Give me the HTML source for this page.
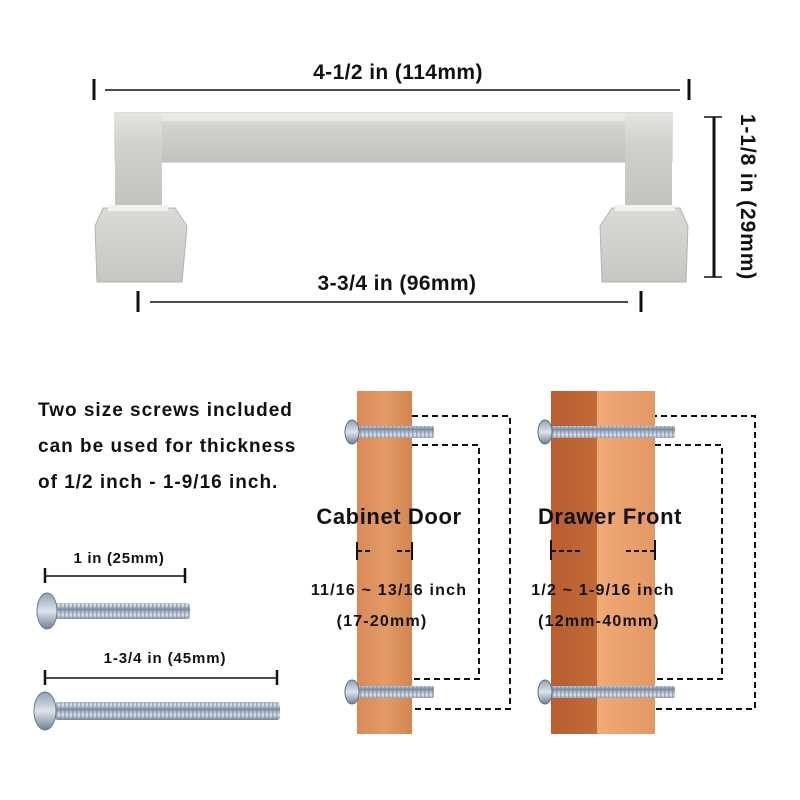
<!DOCTYPE html>
<html><head><meta charset="utf-8"><style>
html,body{margin:0;padding:0;background:#fff}
svg{display:block}
text{font-family:"Liberation Sans",Arial,sans-serif;font-weight:bold;fill:#111}
</style></head><body>
<svg width="800" height="800" viewBox="0 0 800 800" xmlns="http://www.w3.org/2000/svg">
<defs>
<linearGradient id="metal" x1="0" y1="0" x2="0" y2="1">
<stop offset="0" stop-color="#e6e4e1"/><stop offset="0.3" stop-color="#d3d1ce"/><stop offset="1" stop-color="#c3c1be"/>
</linearGradient>
<linearGradient id="foot" x1="0" y1="0" x2="0" y2="1">
<stop offset="0" stop-color="#dcdad7"/><stop offset="1" stop-color="#c8c6c2"/>
</linearGradient>
<linearGradient id="wood1" x1="0" y1="0" x2="1" y2="0">
<stop offset="0" stop-color="#d88a58"/><stop offset="0.5" stop-color="#e39a65"/><stop offset="1" stop-color="#d4864f"/>
</linearGradient>
<linearGradient id="wood2" x1="0" y1="0" x2="1" y2="0">
<stop offset="0" stop-color="#b85e30"/><stop offset="1" stop-color="#c26a38"/>
</linearGradient>
<linearGradient id="wood3" x1="0" y1="0" x2="1" y2="0">
<stop offset="0" stop-color="#f0aa78"/><stop offset="1" stop-color="#e49862"/>
</linearGradient>
<linearGradient id="screw" x1="0" y1="0" x2="0" y2="1">
<stop offset="0" stop-color="#8fa0b4"/><stop offset="0.5" stop-color="#dde4ec"/><stop offset="1" stop-color="#6f8196"/>
</linearGradient>
<pattern id="thread" width="4" height="10" patternUnits="userSpaceOnUse">
<rect width="4" height="10" fill="url(#screw)"/><rect width="1.5" height="10" fill="#7a8aa0" opacity="0.6"/>
</pattern>
</defs>

<!-- handle -->
<rect x="115" y="113" width="557" height="49" fill="url(#metal)" stroke="#bdbbb8"/>
<rect x="115" y="113" width="557" height="8" fill="#ebe9e6"/>
<rect x="115" y="113" width="47" height="100" fill="url(#metal)"/>
<rect x="625" y="113" width="47" height="100" fill="url(#metal)"/>
<path d="M103 208 L175 208 L187 226 L182 282 L97 282 L95 226 Z" fill="url(#foot)" stroke="#b5b3b0"/>
<path d="M612 208 L680 208 L688 226 L686 282 L602 282 L600 226 Z" fill="url(#foot)" stroke="#b5b3b0"/>
<rect x="108" y="205" width="60" height="6" fill="#f2f1ef"/>
<rect x="615" y="205" width="60" height="6" fill="#f2f1ef"/>

<!-- dimension lines -->
<g stroke="#111" stroke-width="3">
<line x1="94" y1="79" x2="94" y2="100"/><line x1="689" y1="79" x2="689" y2="100"/>
<line x1="138" y1="291" x2="138" y2="312"/><line x1="641" y1="291" x2="641" y2="312"/>
<line x1="714" y1="117" x2="714" y2="277"/>
</g>
<g stroke="#111" stroke-width="1.5">
<line x1="105" y1="90" x2="680" y2="90"/>
<line x1="150" y1="302" x2="628" y2="302"/>
<line x1="704" y1="117" x2="722" y2="117"/><line x1="704" y1="277" x2="722" y2="277"/>
</g>
<text x="398" y="79" font-size="21" letter-spacing="0.4" text-anchor="middle">4-1/2 in (114mm)</text>
<text x="397" y="290" font-size="21" letter-spacing="0.4" text-anchor="middle">3-3/4 in (96mm)</text>
<text x="0" y="0" font-size="21" letter-spacing="0.9" text-anchor="middle" transform="translate(741,197) rotate(90)">1-1/8 in (29mm)</text>

<!-- left text -->
<text x="38" y="416" font-size="19" letter-spacing="1">Two size screws included</text>
<text x="38" y="452" font-size="19" letter-spacing="1">can be used for thickness</text>
<text x="38" y="488" font-size="19" letter-spacing="1">of 1/2 inch - 1-9/16 inch.</text>

<!-- small screws -->
<g stroke="#111" stroke-width="1.5"><line x1="45" y1="576" x2="185" y2="576"/><line x1="45" y1="678" x2="277" y2="678"/></g>
<g stroke="#111" stroke-width="2.5"><line x1="45" y1="568" x2="45" y2="583"/><line x1="185" y1="568" x2="185" y2="583"/><line x1="45" y1="670" x2="45" y2="685"/><line x1="277" y1="670" x2="277" y2="685"/></g>
<text x="119" y="563" font-size="15" letter-spacing="0.7" text-anchor="middle">1 in (25mm)</text>
<text x="165" y="663" font-size="15" letter-spacing="0.9" text-anchor="middle">1-3/4 in (45mm)</text>
<rect x="55" y="603" width="135" height="16" rx="3" fill="url(#thread)"/>
<ellipse cx="47" cy="611" rx="10" ry="18" fill="url(#screw)" stroke="#6b7b8e"/>
<rect x="55" y="702" width="225" height="18" rx="3" fill="url(#thread)"/>
<ellipse cx="45" cy="711" rx="11" ry="19" fill="url(#screw)" stroke="#6b7b8e"/>

<!-- cabinet door -->
<rect x="357" y="391" width="55" height="343" fill="url(#wood1)"/>
<g stroke="#111" stroke-width="2" stroke-dasharray="6,4" fill="none">
<path d="M412 416 H510 V709 H412"/>
<path d="M412 445 H479 V679 H412"/>
<path d="M551 416 H755 V709 H655"/>
<path d="M655 445 H722 V679 H655"/>
</g>
<rect x="352" y="426" width="82" height="12" rx="2" fill="url(#thread)"/>
<ellipse cx="352" cy="432" rx="7" ry="12" fill="url(#screw)" stroke="#5d6d80"/>
<rect x="352" y="686" width="82" height="12" rx="2" fill="url(#thread)"/>
<ellipse cx="352" cy="692" rx="7" ry="12" fill="url(#screw)" stroke="#5d6d80"/>

<!-- drawer front -->
<rect x="551" y="391" width="46" height="343" fill="url(#wood2)"/>
<rect x="597" y="391" width="58" height="343" fill="url(#wood3)"/>
<rect x="545" y="426" width="130" height="12" rx="2" fill="url(#thread)"/>
<ellipse cx="545" cy="432" rx="7" ry="12" fill="url(#screw)" stroke="#5d6d80"/>
<rect x="545" y="686" width="130" height="12" rx="2" fill="url(#thread)"/>
<ellipse cx="545" cy="692" rx="7" ry="12" fill="url(#screw)" stroke="#5d6d80"/>

<text x="389" y="524" font-size="22" letter-spacing="0.6" text-anchor="middle">Cabinet Door</text>
<text x="610" y="524" font-size="22" letter-spacing="0.6" text-anchor="middle">Drawer Front</text>
<g stroke="#111" stroke-width="2">
<line x1="357" y1="542" x2="357" y2="560"/><line x1="412" y1="542" x2="412" y2="560"/>
<line x1="551" y1="540" x2="551" y2="560"/><line x1="655" y1="540" x2="655" y2="560"/>
</g>
<g stroke="#111" stroke-width="2" stroke-dasharray="5,3">
<line x1="357" y1="551" x2="373" y2="551"/><line x1="397" y1="551" x2="412" y2="551"/>
<line x1="551" y1="551" x2="581" y2="551"/><line x1="626" y1="551" x2="655" y2="551"/>
</g>
<text x="389" y="595" font-size="16" letter-spacing="1.2" text-anchor="middle">11/16 ~ 13/16 inch</text>
<text x="382" y="626" font-size="16" letter-spacing="1.2" text-anchor="middle">(17-20mm)</text>
<text x="603" y="595" font-size="16" letter-spacing="1.2" text-anchor="middle">1/2 ~ 1-9/16 inch</text>
<text x="599" y="626" font-size="16" letter-spacing="1.2" text-anchor="middle">(12mm-40mm)</text>
</svg>
</body></html>
